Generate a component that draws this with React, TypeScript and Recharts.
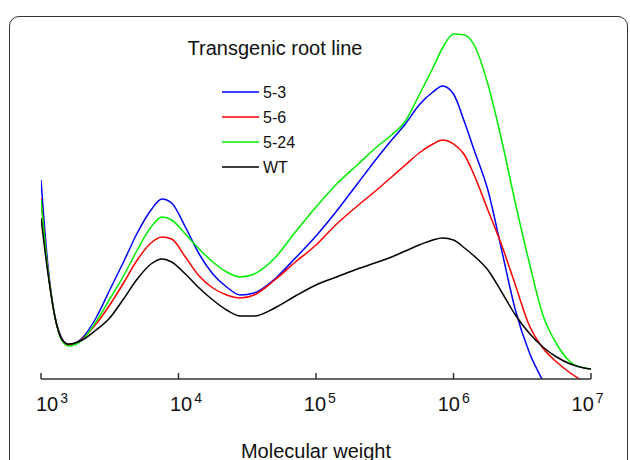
import React from 'react';
import { LineChart, Line, XAxis, YAxis, Legend } from 'recharts';

// molecular weight (Da), sampled on a log grid
const molecularWeight = [
  1000, 1122, 1259, 1413, 1585, 1995, 2512, 3162, 3981, 5012, 6310, 7586, 8913,
  11220, 14130, 17780, 22390, 28180, 35480, 50120, 70790, 100000, 141300, 199500,
  281800, 354800, 446700, 562300, 707900, 831800, 1000000, 1202000, 1413000,
  1778000, 2239000, 2818000, 3548000, 4467000, 5623000, 7079000, 8913000, 10000000,
];

// detector response (arbitrary units)
const line53 = [
  199, 114, 63, 41, 34, 41, 61, 89, 117, 146, 169, 180, 176,
  152, 125, 105, 92, 84, 86, 100, 121, 143, 168, 195,
  222, 239, 255, 274, 287, 293, 285, 257, 229,
  189, 129, 69, 27, -2, -30, null, null, null,
];
const line56 = [
  181, 109, 63, 40, 34, 40, 55, 74, 96, 119, 136, 142, 140,
  122, 103, 91, 84, 81, 84, 99, 117, 134, 155, 173,
  190, 202, 214, 226, 235, 239, 235, 224, 204,
  169, 134, 94, 54, 31, 17, 6, -3, null,
];
const line524 = [
  179, 109, 63, 39, 33, 39, 57, 80, 103, 129, 152, 162, 159,
  145, 130, 117, 107, 102, 105, 121, 147, 172, 195, 214,
  233, 244, 258, 284, 311, 331, 345, 344, 334,
  295, 239, 176, 117, 64, 35, 17, 11, 10,
];
const lineWT = [
  161, 106, 63, 40, 35, 39, 49, 61, 80, 100, 115, 120, 117,
  105, 91, 79, 69, 63, 63, 71, 83, 94, 102, 110,
  117, 122, 128, 134, 139, 141, 139, 131, 123,
  109, 87, 64, 46, 32, 22, 15, 11, 10,
];

const decades = [1000, 10000, 100000, 1000000, 10000000];

const seriesInfo = [
  { key: 'l53', name: '5-3', color: '#0000ff' },
  { key: 'l56', name: '5-6', color: '#ff0000' },
  { key: 'l524', name: '5-24', color: '#00ee00' },
  { key: 'lwt', name: 'WT', color: '#000000' },
];

const data = molecularWeight.map((mw, i) => ({
  mw,
  l53: line53[i],
  l56: line56[i],
  l524: line524[i],
  lwt: lineWT[i],
}));

const FONT = '"Liberation Sans", Arial, Helvetica, sans-serif';

const DecadeTick = (props: any) => {
  const { x, y, payload, index } = props;
  const exp = Math.round(Math.log10(payload.value));
  // labels sit a little left of their ticks, drifting further left to the right
  const lx = x - 5 - 3.6 * (index || 0);
  return (
    <g>
      <line x1={x} x2={x} y1={y} y2={y - 6} stroke="#333" strokeWidth={1.5} />
      <text x={lx} y={y + 32} fontSize={20} fill="#111" fontFamily={FONT}>
        <tspan>10</tspan>
        <tspan fontSize={14} dx={2} dy={-8}>{exp}</tspan>
      </text>
    </g>
  );
};

const renderLegend = () => (
  <svg width={250} height={150} style={{ display: 'block' }}>
    <text x={105} y={25} textAnchor="middle" fontSize={20} fill="#111" fontFamily={FONT}>
      Transgenic root line
    </text>
    {seriesInfo.map((s, i) => {
      const ly = 62 + i * 25;
      return (
        <g key={s.key}>
          <line x1={52} x2={89} y1={ly} y2={ly} stroke={s.color} strokeWidth={1.5} />
          <text x={93} y={ly + 5.5} fontSize={16} fill="#111" fontFamily={FONT}>
            {s.name}
          </text>
        </g>
      );
    })}
  </svg>
);

export default function App() {
  return (
    <div style={{ position: 'absolute', left: 0, top: 0, width: 630, height: 460, overflow: 'hidden', background: '#fff' }}>
      <div
        style={{
          position: 'absolute',
          left: 9,
          top: 16,
          width: 617,
          height: 480,
          border: '1.5px solid #333',
          borderRadius: 10,
        }}
      />
      <div style={{ position: 'absolute', left: 0, top: 0 }}>
        <LineChart width={630} height={460} data={data} margin={{ top: 19, right: 39, left: 41, bottom: 1 }}>
          <XAxis
            dataKey="mw"
            type="number"
            scale="log"
            domain={[1000, 10000000]}
            ticks={decades}
            allowDataOverflow
            height={80}
            tickSize={0}
            tickMargin={0}
            tick={<DecadeTick />}
            axisLine={{ stroke: '#333', strokeWidth: 1.5 }}
            label={{ value: 'Molecular weight', position: 'insideBottom', offset: 1, fontSize: 20, fill: '#111', fontFamily: FONT }}
          />
          <YAxis hide domain={[0, 360]} allowDataOverflow />
          <Legend
            layout="vertical"
            align="center"
            verticalAlign="middle"
            content={renderLegend}
            wrapperStyle={{ position: 'absolute', left: 170, top: 30, width: 250, height: 150 }}
          />
          {seriesInfo.map((s) => (
            <Line
              key={s.key}
              dataKey={s.key}
              name={s.name}
              stroke={s.color}
              strokeWidth={1.5}
              type="monotone"
              dot={false}
              isAnimationActive={false}
            />
          ))}
        </LineChart>
      </div>
    </div>
  );
}
